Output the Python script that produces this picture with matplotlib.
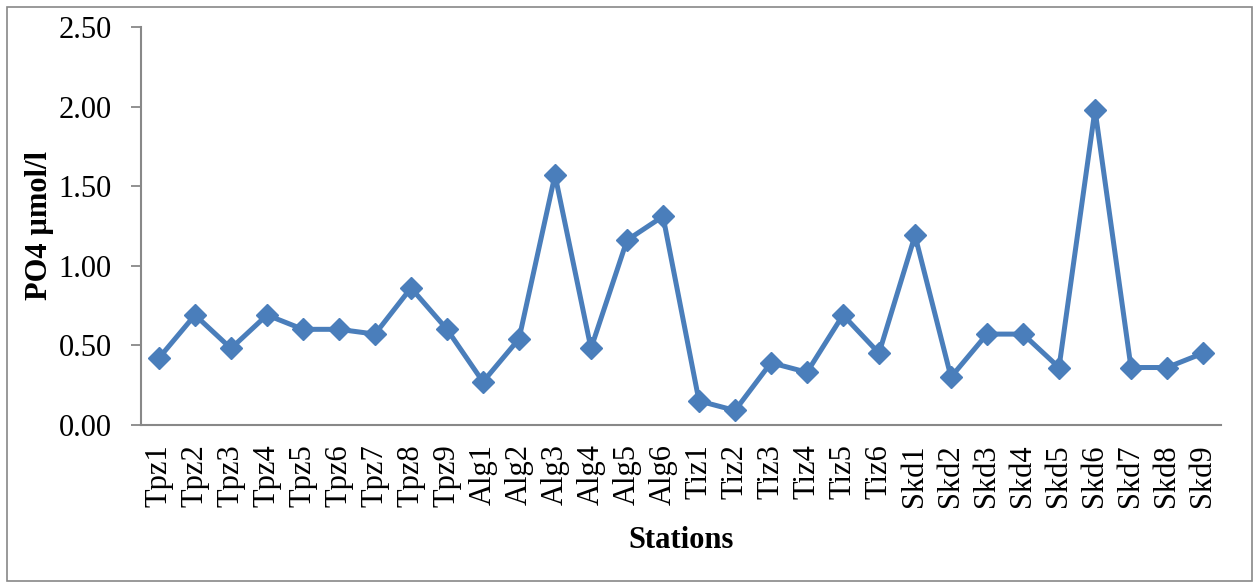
import matplotlib
matplotlib.use("Agg")
import matplotlib.pyplot as plt
from matplotlib.patches import Rectangle

stations = ["Tpz1", "Tpz2", "Tpz3", "Tpz4", "Tpz5", "Tpz6", "Tpz7", "Tpz8", "Tpz9",
            "Alg1", "Alg2", "Alg3", "Alg4", "Alg5", "Alg6",
            "Tiz1", "Tiz2", "Tiz3", "Tiz4", "Tiz5", "Tiz6",
            "Skd1", "Skd2", "Skd3", "Skd4", "Skd5", "Skd6", "Skd7", "Skd8", "Skd9"]
po4 = [0.42, 0.69, 0.48, 0.69, 0.60, 0.60, 0.57, 0.86, 0.60,
       0.27, 0.54, 1.57, 0.48, 1.16, 1.31,
       0.15, 0.09, 0.39, 0.33, 0.69, 0.45,
       1.19, 0.30, 0.57, 0.57, 0.36, 1.98, 0.36, 0.36, 0.45]
yticks = [0.0, 0.5, 1.0, 1.5, 2.0, 2.5]

plt.rcParams['font.family'] = ['Liberation Serif', 'DejaVu Serif']

fig = plt.figure(figsize=(12.6, 5.87), dpi=100)
ax = fig.add_axes([141/1260, 1-424.8/587, (1221-141)/1260, (424.8-27)/587])

x = list(range(len(stations)))
color = '#4A7EBB'
ax.plot(x, po4, color=color, lw=3.6, marker='D', markersize=11,
        markerfacecolor=color, markeredgecolor=color, solid_joinstyle='round')

ax.set_xlim(-0.5, len(stations) - 0.5)
ax.set_ylim(0, 2.5)
ax.set_yticks(yticks)
ax.set_yticklabels([f"{v:.2f}" for v in yticks], fontsize=22)
ax.set_xticks(x)
ax.set_xticklabels(stations, rotation=90, fontsize=22)
ax.tick_params(axis='x', length=0, pad=14)
ax.tick_params(axis='y', length=7, width=1.3, color='#888888', pad=14)

for s in ['top', 'right']:
    ax.spines[s].set_visible(False)
for s in ['left', 'bottom']:
    ax.spines[s].set_color('#888888')
    ax.spines[s].set_linewidth(1.5)

ax.set_xlabel("Stations", fontsize=22, fontweight='bold', labelpad=14)
ax.set_ylabel("PO4 µmol/l", fontsize=22, fontweight='bold', labelpad=3)

border = Rectangle((7/1260, 6/587), (1252-7)/1260, (580-6)/587, transform=fig.transFigure,
                   fill=False, edgecolor='#888888', lw=1.2)
fig.patches.append(border)

fig.savefig("out.png", dpi=100)
